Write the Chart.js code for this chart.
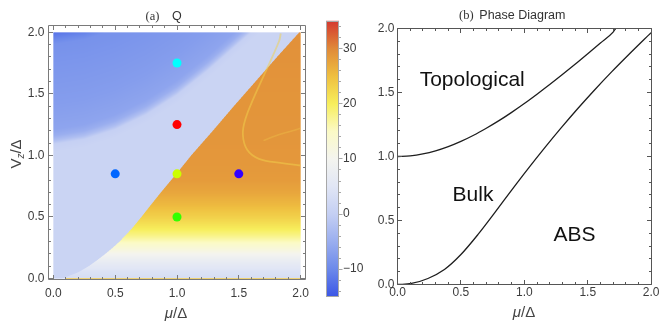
<!DOCTYPE html>
<html>
<head>
<meta charset="utf-8">
<script src="https://cdn.jsdelivr.net/npm/chart.js@4.4.1/dist/chart.umd.min.js"></script>
<style>
  html, body { margin: 0; padding: 0; background: #fff; }
  #wrap { position: relative; width: 660px; height: 322px; overflow: hidden; }
  #wrap canvas { position: absolute; left: 0; top: 0; }
</style>
</head>
<body>
<div id="wrap">
  <canvas id="qmap" width="660" height="322"></canvas>
  <canvas id="qbar" width="660" height="322"></canvas>
  <canvas id="phase" width="660" height="322"></canvas>
</div>
<script>
// ---------------- data ----------------
const axisTicks  = [0, 0.5, 1, 1.5, 2];
const minorTicks = [0.1, 0.2, 0.3, 0.4, 0.6, 0.7, 0.8, 0.9, 1.1, 1.2, 1.3, 1.4, 1.6, 1.7, 1.8, 1.9];
const barTicks   = [-10, 0, 10, 20, 30];
const barMinor   = [-14, -12, -8, -6, -4, -2, 2, 4, 6, 8, 12, 14, 16, 18, 22, 24, 26, 28, 32, 34];
const qRange     = [-15, 35.1];

// colour scale for Q
const cmapQ      = [-15, -10, -5, 0, 5, 10, 15, 20, 25, 30, 35.1];
const cmapColors = ['#3b56e6', '#6c89ea', '#9aaeef', '#c4cff3', '#e1e6f5', '#f4f4ef',
                    '#fbfac6', '#f7ee5c', '#efbf40', '#e08a39', '#d4372f'];

// sample points marked on the Q map
const dotMu     = [1.0, 1.0, 0.5, 1.0, 1.5, 1.0];
const dotV      = [1.75, 1.25, 0.85, 0.85, 0.85, 0.5];
const dotColors = ['#00ffff', '#ff0000', '#0066ff', '#ccff00', '#3300ff', '#33ff00'];

// Q map: edge of the ABS side (mu of the edge at each Vz)
const bulkEdgeV  = [0.00, 0.05, 0.10, 0.15, 0.20, 0.25, 0.30, 0.40, 0.50, 0.60, 0.70, 0.80, 0.90, 1.00, 1.20, 1.40, 1.60, 1.80, 2.00];
const bulkEdgeMu = [0.07, 0.20, 0.285, 0.355, 0.42, 0.48, 0.535, 0.63, 0.712, 0.79, 0.87, 0.953, 1.035, 1.115, 1.29, 1.46, 1.635, 1.81, 1.99];

// Q map: ABS side, Q against Vz
const absV = [0.00, 0.05, 0.10, 0.15, 0.20, 0.25, 0.30, 0.35, 0.40, 0.45, 0.50, 0.55, 0.60, 0.70, 0.80, 1.00, 1.50, 2.00];
const absQ = [3.0, 4.0, 5.5, 7.5, 10.0, 13.0, 15.5, 18.0, 20.0, 21.7, 23.2, 24.4, 25.6, 27.4, 28.4, 28.8, 29.0, 29.4];

// Q map: topological side, the soft edge where Q turns negative
const blueEdgeMu = [0.00, 0.25, 0.50, 0.75, 1.00, 1.25, 1.50, 1.75, 2.00];
const blueEdgeV  = [1.12, 1.16, 1.24, 1.36, 1.52, 1.72, 1.94, 2.16, 2.40];
// Q against height above that edge
const blueDepth  = [-0.09, -0.03, 0.00, 0.04, 0.09, 0.30, 0.60, 0.78, 0.84, 0.90];
const blueDepthQ = [1.0, 0.2, -2.5, -5.0, -6.3, -7.3, -8.2, -8.8, -10.8, -13.0];

// faint rings inside the ABS side
const ringMu      = [1.84, 1.825, 1.717, 1.62, 1.555, 1.533, 1.568, 1.663, 1.85, 2.0];
const ringV       = [1.99, 1.925, 1.68, 1.465, 1.30, 1.17, 1.045, 0.972, 0.937, 0.918];
const innerRingMu = [1.70, 1.80, 1.90, 2.0];
const innerRingV  = [1.12, 1.16, 1.19, 1.22];
const ringQ       = [23];

// bottom row of the Q map
const baseRowMu = [0.10, 2.0];
const baseRowV  = [0.0, 0.0];
const baseRowQ  = [24];

// phase diagram boundaries
const topoMu  = [0, 0.1, 0.2, 0.3, 0.4, 0.5, 0.6, 0.7, 0.8, 0.9, 1.0, 1.1, 1.2, 1.3, 1.4, 1.5, 1.6, 1.7, 1.72];
const topoV   = [1.00, 1.005, 1.02, 1.044, 1.077, 1.118, 1.166, 1.221, 1.28, 1.345, 1.414, 1.487, 1.562, 1.64, 1.72, 1.803, 1.887, 1.972, 2.0];
const lowerMu = [0, 0.11, 0.24, 0.37, 0.50, 0.635, 0.77, 0.90, 1.03, 1.16, 1.29, 1.42, 1.55, 1.69, 1.82, 2.0];
const lowerV  = [0, 0.008, 0.047, 0.117, 0.234, 0.391, 0.565, 0.737, 0.905, 1.067, 1.223, 1.373, 1.516, 1.663, 1.793, 1.968];

// ---------------- helpers ----------------
const SANS  = "'Liberation Sans', Arial, sans-serif";
const SERIF = "'Liberation Serif', 'Times New Roman', serif";
Chart.defaults.font.family = SANS;

function lerp1(xs, ys, x) {
  const n = xs.length;
  if (x <= xs[0]) return ys[0];
  if (x >= xs[n - 1]) return ys[n - 1];
  let i = 1;
  while (xs[i] < x) i++;
  const t = (x - xs[i - 1]) / (xs[i] - xs[i - 1]);
  return ys[i - 1] + t * (ys[i] - ys[i - 1]);
}
const cmapRGB = cmapColors.map(h => [1, 3, 5].map(k => parseInt(h.substr(k, 2), 16)));
function colorOf(q) {
  return [0, 1, 2].map(c => lerp1(cmapQ, cmapRGB.map(rgb => rgb[c]), q));
}
function cssOf(q, a) {
  const c = colorOf(q).map(Math.round);
  return `rgba(${c[0]},${c[1]},${c[2]},${a})`;
}
function qAt(mu, v) {
  if (mu >= lerp1(bulkEdgeV, bulkEdgeMu, v)) return lerp1(absV, absQ, v);
  const d = v - lerp1(blueEdgeMu, blueEdgeV, mu);
  return lerp1(blueDepth, blueDepthQ, d);
}
const pts = (xs, ys) => xs.map((x, i) => ({ x, y: ys[i] }));
const fixedTicks = vals => s => { s.ticks = vals.map(v => ({ value: v })); };

// ---------------- plugins ----------------
// Q field painted pixel by pixel through the chart's own scales
const qField = {
  id: 'qField',
  beforeDatasetsDraw(chart) {
    const { ctx, scales: { x, y } } = chart;
    const left = x.getPixelForValue(0), right = x.getPixelForValue(2);
    const top = y.getPixelForValue(2), bottom = y.getPixelForValue(0);
    const ix0 = Math.floor(left), iy0 = Math.floor(top);
    const W = Math.ceil(right) - ix0, H = Math.ceil(bottom) - iy0;
    const off = document.createElement('canvas');
    off.width = W; off.height = H;
    const octx = off.getContext('2d');
    const img = octx.createImageData(W, H);
    const S = 3;
    for (let j = 0; j < H; j++) {
      for (let i = 0; i < W; i++) {
        let r = 0, g = 0, b = 0, n = 0;
        for (let sj = 0; sj < S; sj++) {
          for (let si = 0; si < S; si++) {
            const mu = x.getValueForPixel(ix0 + i + (si + 0.5) / S);
            const v = y.getValueForPixel(iy0 + j + (sj + 0.5) / S);
            if (mu < 0 || mu > 2 || v < 0 || v > 2) continue;
            const c = colorOf(qAt(mu, v));
            r += c[0]; g += c[1]; b += c[2]; n++;
          }
        }
        if (n) {
          const k = 4 * (j * W + i);
          img.data[k] = r / n; img.data[k + 1] = g / n; img.data[k + 2] = b / n;
          img.data[k + 3] = 255 * n / (S * S);
        }
      }
    }
    octx.putImageData(img, 0, 0);
    ctx.drawImage(off, ix0, iy0);
  }
};

// frame with inward ticks on all four sides
const frameTicks = {
  id: 'frameTicks',
  afterDraw(chart, args, o) {
    const { ctx, chartArea: a, scales: { x, y } } = chart;
    const snap = p => Math.round(p - 0.5) + 0.5;
    ctx.save();
    ctx.strokeStyle = o.color;
    ctx.lineWidth = 1;
    ctx.beginPath();
    const L = snap(a.left), R = snap(a.right), T = snap(a.top), B = snap(a.bottom);
    ctx.rect(L, T, R - L, B - T);
    const mark = (vals, len) => vals.forEach(v => {
      const px = snap(x.getPixelForValue(v));
      ctx.moveTo(px, B); ctx.lineTo(px, B - len);
      ctx.moveTo(px, T); ctx.lineTo(px, T + len);
      const py = snap(y.getPixelForValue(v));
      ctx.moveTo(L, py); ctx.lineTo(L + len, py);
      ctx.moveTo(R, py); ctx.lineTo(R - len, py);
    });
    mark(axisTicks, o.major);
    mark(minorTicks, o.minor);
    ctx.stroke();
    ctx.restore();
  }
};

// outline and side ticks of the colour bar
const barFrame = {
  id: 'barFrame',
  afterDraw(chart, args, o) {
    const { ctx, chartArea: a, scales: { y } } = chart;
    ctx.save();
    ctx.strokeStyle = o.color;
    ctx.lineWidth = 1;
    ctx.strokeRect(Math.round(a.left) + 0.5, Math.round(a.top) + 0.5,
                   Math.round(a.right - a.left) - 1, Math.round(a.bottom - a.top) - 1);
    ctx.beginPath();
    const R = Math.round(a.right);
    const mark = (vals, len) => vals.forEach(v => {
      const py = Math.round(y.getPixelForValue(v) - 0.5) + 0.5;
      ctx.moveTo(R, py); ctx.lineTo(R + len, py);
    });
    mark(barTicks, 3.5);
    mark(barMinor, 2);
    ctx.stroke();
    ctx.restore();
  }
};

// mixed-font text runs (titles, axis names, region names)
const runText = {
  id: 'runText',
  afterDraw(chart, args, o) {
    const ctx = chart.ctx;
    (o.items || []).forEach(it => {
      let px = it.x, py = it.y;
      if (it.mu !== undefined) {
        px = chart.scales.x.getPixelForValue(it.mu);
        py = chart.scales.y.getPixelForValue(it.v);
      }
      ctx.save();
      ctx.translate(px, py);
      if (it.rotate) ctx.rotate(it.rotate);
      ctx.fillStyle = it.color || '#222';
      ctx.textBaseline = 'alphabetic';
      ctx.textAlign = 'left';
      let total = 0;
      it.runs.forEach(r => { ctx.font = r.font; r.w = ctx.measureText(r.text).width; total += r.w; });
      let cx = it.align === 'left' ? 0 : -total / 2;
      it.runs.forEach(r => { ctx.font = r.font; ctx.fillText(r.text, cx, r.dy || 0); cx += r.w; });
      ctx.restore();
    });
  }
};

const tickFont = { family: SANS, size: 12 };
const tickColor = '#3c3c3c';
const fmt1 = v => Number(v).toFixed(1);

// ---------------- (a) Q map ----------------
new Chart(document.getElementById('qmap'), {
  type: 'scatter',
  data: {
    datasets: [
      {
        type: 'line', data: pts(baseRowMu, baseRowV), borderColor: cssOf(baseRowQ[0], 0.75),
        borderWidth: 1, pointRadius: 0, fill: false
      },
      {
        type: 'line', data: pts(innerRingMu, innerRingV), borderColor: cssOf(ringQ[0], 0.3),
        borderWidth: 1.6, pointRadius: 0, tension: 0.4, fill: false
      },
      {
        type: 'line', data: pts(ringMu, ringV), borderColor: cssOf(ringQ[0], 0.5),
        borderWidth: 1.8, pointRadius: 0, tension: 0.4, fill: false
      },
      {
        data: pts(dotMu, dotV), backgroundColor: dotColors, pointBackgroundColor: dotColors,
        pointBorderWidth: 0, pointRadius: 4.5
      }
    ]
  },
  options: {
    responsive: false, animation: false, events: [],
    layout: { padding: { left: 8.5, right: 354.5, top: 25.5, bottom: 12.5 } },
    plugins: {
      legend: { display: false }, tooltip: { enabled: false },
      frameTicks: { color: '#7a7a7a', major: 4.5, minor: 2.5 },
      runText: {
        items: [
          { x: 145.5, y: 20, align: 'left', color: '#333', runs: [{ text: '(a)', font: `12.5px ${SERIF}` }] },
          { x: 172, y: 20, align: 'left', color: '#333', runs: [{ text: 'Q', font: `12.5px ${SANS}` }] },
          { x: 176, y: 318, color: '#444', runs: [
            { text: 'μ', font: `italic 15px ${SANS}` }, { text: '/Δ', font: `15px ${SANS}` }] },
          { x: 20.5, y: 154, rotate: -Math.PI / 2, color: '#444', runs: [
            { text: 'V', font: `15px ${SANS}` }, { text: 'z', font: `italic 10px ${SANS}`, dy: 3 },
            { text: '/Δ', font: `15px ${SANS}` }] }
        ]
      }
    },
    scales: {
      x: {
        type: 'linear', min: -0.04, max: 2.04,
        afterBuildTicks: fixedTicks(axisTicks), afterFit: s => { s.height = 30; },
        grid: { display: false, drawTicks: false }, border: { display: false },
        ticks: { padding: 7, font: tickFont, color: tickColor, callback: fmt1, maxRotation: 0 }
      },
      y: {
        type: 'linear', min: -0.008, max: 2.055,
        afterBuildTicks: fixedTicks(axisTicks), afterFit: s => { s.width = 40; },
        grid: { display: false, drawTicks: false }, border: { display: false },
        ticks: { padding: 4, font: tickFont, color: tickColor, callback: fmt1 }
      }
    }
  },
  plugins: [qField, frameTicks, runText]
});

// ---------------- colour bar ----------------
new Chart(document.getElementById('qbar'), {
  type: 'bar',
  data: {
    labels: ['Q'],
    datasets: [{
      data: [qRange],
      borderWidth: 0, borderSkipped: false, barPercentage: 1, categoryPercentage: 1,
      backgroundColor: (c) => {
        const chart = c.chart;
        if (!chart.chartArea) return '#ccc';
        const ys = chart.scales.y;
        const g = chart.ctx.createLinearGradient(0, ys.getPixelForValue(qRange[0]), 0, ys.getPixelForValue(qRange[1]));
        cmapQ.forEach((q, i) => g.addColorStop((q - qRange[0]) / (qRange[1] - qRange[0]), cmapColors[i]));
        return g;
      }
    }]
  },
  options: {
    responsive: false, animation: false, events: [],
    layout: { padding: { left: 326, right: 291, top: 20.7, bottom: 25.3 } },
    plugins: {
      legend: { display: false }, tooltip: { enabled: false },
      barFrame: { color: '#a8a8a8' }
    },
    scales: {
      x: { display: false },
      y: {
        position: 'right', min: qRange[0], max: qRange[1],
        afterBuildTicks: fixedTicks(barTicks), afterFit: s => { s.width = 30; },
        grid: { display: false, drawTicks: false }, border: { display: false },
        ticks: {
          padding: 4, font: tickFont, color: tickColor,
          callback: v => (v < 0 ? '\u2212' + Math.abs(v) : String(v))
        }
      }
    }
  },
  plugins: [barFrame]
});

// ---------------- (b) phase diagram ----------------
new Chart(document.getElementById('phase'), {
  type: 'scatter',
  data: {
    datasets: [
      {
        type: 'line', data: pts(topoMu, topoV), borderColor: '#1e1e1e', borderWidth: 1.3,
        pointRadius: 0, cubicInterpolationMode: 'monotone', fill: false
      },
      {
        type: 'line', data: pts(lowerMu, lowerV), borderColor: '#1e1e1e', borderWidth: 1.3,
        pointRadius: 0, cubicInterpolationMode: 'monotone', fill: false
      }
    ]
  },
  options: {
    responsive: false, animation: false, events: [],
    layout: { padding: { left: 357.5, right: 8.5, top: 28.5, bottom: 7.5 } },
    plugins: {
      legend: { display: false }, tooltip: { enabled: false },
      frameTicks: { color: '#555', major: 4.5, minor: 2.5 },
      runText: {
        items: [
          { x: 459, y: 18.5, align: 'left', color: '#333', runs: [{ text: '(b)', font: `12.5px ${SERIF}` }] },
          { x: 479.3, y: 18.5, align: 'left', color: '#333', runs: [{ text: 'Phase Diagram', font: `12.5px ${SANS}` }] },
          { x: 524, y: 317, color: '#444', runs: [
            { text: 'μ', font: `italic 15px ${SANS}` }, { text: '/Δ', font: `15px ${SANS}` }] },
          { mu: 0.589, v: 1.549, color: '#111', runs: [{ text: 'Topological', font: `21px ${SANS}` }] },
          { mu: 0.595, v: 0.651, color: '#111', runs: [{ text: 'Bulk', font: `21px ${SANS}` }] },
          { mu: 1.396, v: 0.338, color: '#111', runs: [{ text: 'ABS', font: `21px ${SANS}` }] }
        ]
      }
    },
    scales: {
      x: {
        type: 'linear', min: 0, max: 2,
        afterBuildTicks: fixedTicks(axisTicks), afterFit: s => { s.height = 30; },
        grid: { display: false, drawTicks: false }, border: { display: false },
        ticks: { padding: 0.5, font: tickFont, color: tickColor, callback: fmt1, maxRotation: 0 }
      },
      y: {
        type: 'linear', min: 0, max: 2,
        afterBuildTicks: fixedTicks(axisTicks), afterFit: s => { s.width = 40; },
        grid: { display: false, drawTicks: false }, border: { display: false },
        ticks: { padding: 3, font: tickFont, color: tickColor, callback: fmt1 }
      }
    }
  },
  plugins: [frameTicks, runText]
});
</script>
</body>
</html>
